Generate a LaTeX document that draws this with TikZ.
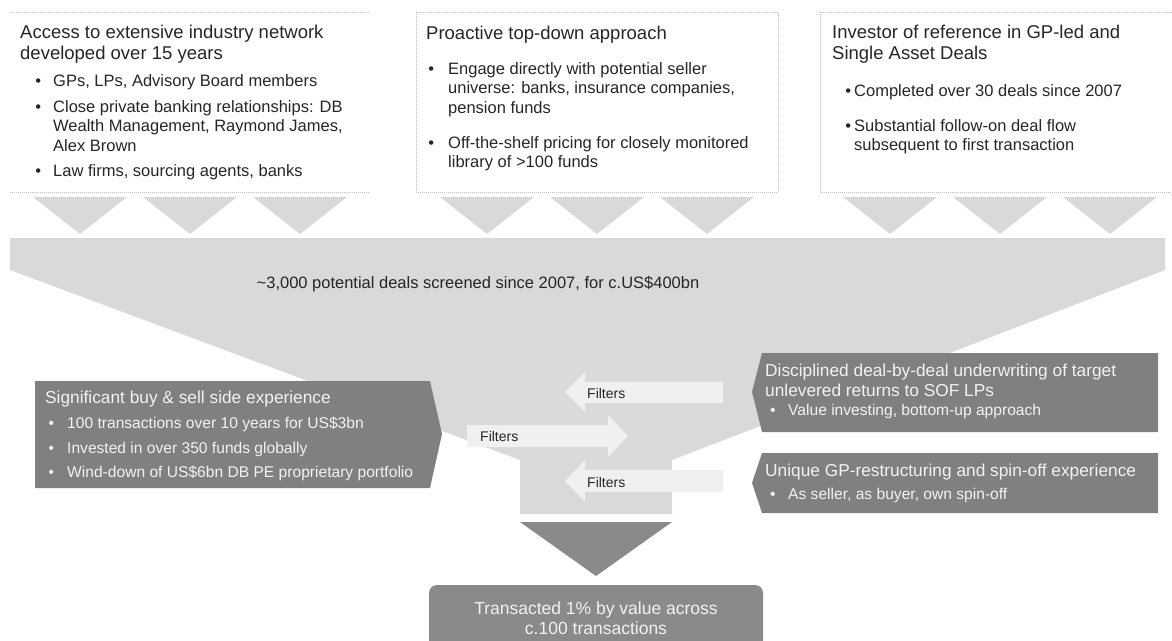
\documentclass[tikz,border=0pt]{standalone}
\usepackage{fontspec}
\setmainfont{Liberation Sans}
\usetikzlibrary{positioning}

\definecolor{funnelgray}{HTML}{D9D9D9}
\definecolor{boxgray}{HTML}{808080}
\definecolor{tipgray}{HTML}{8A8A8A}
\definecolor{arrowgray}{HTML}{F0F0F0}
\definecolor{linegray}{HTML}{BFBFBF}
\definecolor{inkgray}{HTML}{262626}
\definecolor{palegray}{HTML}{F2F2F2}

\newcommand{\topttl}{\fontsize{18.5}{21}\selectfont}
\newcommand{\topbul}{\fontsize{16.5}{19.5}\selectfont}
\newcommand{\darkttl}{\fontsize{17.3}{20}\selectfont}
\newcommand{\darkbul}{\fontsize{15.6}{24.5}\selectfont}
\newcommand{\bul}[1]{\llap{\textbullet\hspace{#1}}}

\tikzset{
  txt/.style={anchor=north west, inner sep=0pt, align=left, text=inkgray},
  whitetxt/.style={anchor=north west, inner sep=0pt, align=left, text=palegray},
  dotline/.style={draw=linegray, line width=1pt, dash pattern=on 1pt off 1pt},
  funnel/.style={fill=funnelgray},
  darkbox/.style={fill=boxgray},
  filterarrow/.style={fill=arrowgray},
  filtertxt/.style={anchor=west, inner sep=0pt, text=inkgray, font=\fontsize{14}{16}\selectfont}
}

\begin{document}
\begin{tikzpicture}[x=1pt, y=-1pt]
  \clip (0,0) rectangle (1172,640);
  % source boxes
  \draw[dotline] (10,12) -- (370,12);
  \draw[dotline] (10,192) -- (370,192);
  \draw[dotline] (416,12) rectangle (778,192);
  \draw[dotline] (1172,12) -- (820,12) -- (820,192) -- (1172,192);

  \node[txt, font=\topttl] (nethead) at (20,25.2) {Access to extensive industry network\\developed over 15 years};
  \node[txt, font=\topbul] (net1) at (53,73.9) {\bul{12pt}GPs, LPs, Advisory Board members};
  \node[txt, font=\topbul] (net2) at (53,99.9) {\bul{12pt}Close private banking relationships: DB\\Wealth Management, Raymond James,\\Alex Brown};
  \node[txt, font=\topbul] (net3) at (53,163.9) {\bul{12pt}Law firms, sourcing agents, banks};

  \node[txt, font=\topttl] (prohead) at (426,26.2) {Proactive top-down approach};
  \node[txt, font=\topbul] (pro1) at (448,61.9) {\bul{14pt}Engage directly with potential seller\\universe: banks, insurance companies,\\pension funds};
  \node[txt, font=\topbul] (pro2) at (448,135.9) {\bul{14pt}Off-the-shelf pricing for closely monitored\\library of >100 funds};

  \node[txt, font=\topttl] (invhead) at (832,25.2) {Investor of reference in GP-led and\\Single Asset Deals};
  \node[txt, font=\topbul] (inv1) at (854,83.9) {\bul{3pt}Completed over 30 deals since 2007};
  \node[txt, font=\topbul] (inv2) at (854,118.9) {\bul{3pt}Substantial follow-on deal flow\\subsequent to first transaction};

  % chevrons into the funnel
  \foreach \cx in {80,190,300,487,597,707,890,1000,1110}
    \fill[funnel] ({\cx-47},197) -- ({\cx+47},197) -- (\cx,234) -- cycle;

  % funnel
  \fill[funnel] (10,238) -- (1165,238) -- (1165,270) -- (672,460) -- (672,514)
    -- (520,514) -- (520,460) -- (10,270) -- cycle;
  \node[inner sep=0pt, text=inkgray, font=\fontsize{16.5}{20}\selectfont] (screen) at (478,284)
    {\textasciitilde 3,000 potential deals screened since 2007, for c.US\$400bn};

  % filters
  \fill[filterarrow] (723,382) -- (585,382) -- (585,372) -- (565,392) -- (585,412) -- (585,403) -- (723,403) -- cycle;
  \fill[filterarrow] (467,425) -- (608,425) -- (608,415) -- (628,436) -- (608,457) -- (608,447) -- (467,447) -- cycle;
  \fill[filterarrow] (723,470) -- (585,470) -- (585,460) -- (565,481) -- (585,502) -- (585,492) -- (723,492) -- cycle;
  \node[filtertxt] (filt1) at (587,393) {Filters};
  \node[filtertxt] (filt2) at (480,436) {Filters};
  \node[filtertxt] (filt3) at (587,482) {Filters};

  % experience boxes
  \fill[darkbox] (35,381) -- (430,381) -- (442,434) -- (430,488) -- (35,488) -- cycle;
  \fill[darkbox] (762,353) -- (1158,353) -- (1158,432) -- (762,432) -- (752,392) -- cycle;
  \fill[darkbox] (762,453) -- (1158,453) -- (1158,513) -- (762,513) -- (752,483) -- cycle;

  \node[whitetxt, font=\darkttl] (sidehead) at (45,390.6) {Significant buy \& sell side experience};
  \node[whitetxt, font=\darkbul] (sidelist) at (67,417.2) {\bul{13pt}100 transactions over 10 years for US\$3bn\\\bul{13pt}Invested in over 350 funds globally\\\bul{13pt}Wind-down of US\$6bn DB PE proprietary portfolio};
  \node[whitetxt, font=\darkttl] (uwhead) at (765,363.6) {Disciplined deal-by-deal underwriting of target\\unlevered returns to SOF LPs};
  \node[whitetxt, font=\darkbul] (uwlist) at (788,404.2) {\bul{12.5pt}Value investing, bottom-up approach};
  \node[whitetxt, font=\darkttl] (gphead) at (765,463.6) {Unique GP-restructuring and spin-off experience};
  \node[whitetxt, font=\darkbul] (gplist) at (788,488.2) {\bul{12.5pt}As seller, as buyer, own spin-off};

  % outcome
  \fill[fill=tipgray] (520,522) -- (672,522) -- (596,576) -- cycle;
  \fill[fill=tipgray, rounded corners=8pt] (429,585) rectangle (763,660);
  \node[anchor=north, inner sep=0pt, align=center, text=palegray, font=\fontsize{17.5}{20}\selectfont] (deal) at (596,601.5)
    {Transacted 1\% by value across\\c.100 transactions};
\end{tikzpicture}
\end{document}
